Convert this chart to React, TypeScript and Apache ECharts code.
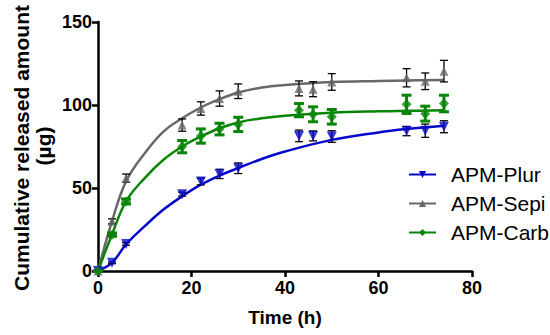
import React, { useEffect, useRef } from "react";
import * as echarts from "echarts";

// Measured time points (h)
const times = [0, 3, 6, 18, 22, 26, 30, 43, 46, 50, 66, 70, 74];

// Mean cumulative released amount (µg) and SD per formulation
const plurMean = [0, 4.9, 16.3, 46.3, 53.9, 58.5, 61.9, 81.4, 81.4, 81.0, 84.3, 84.5, 86.9];
const plurSD = [0, 0.5, 0.8, 1.2, 2.0, 2.8, 3.2, 3.5, 3.0, 3.5, 2.8, 4.0, 3.6];
const sepiMean = [0, 29.9, 55.9, 87.9, 97.9, 103.9, 108.3, 110.0, 109.5, 113.9, 116.4, 114.3, 120.4];
const sepiSD = [0, 1.5, 2.5, 3.7, 4.0, 4.6, 4.4, 4.5, 4.5, 5.0, 5.5, 5.0, 6.5];
const carbMean = [0, 21.9, 41.9, 74.9, 81.3, 85.5, 88.3, 96.9, 94.4, 92.9, 100.4, 94.8, 100.9];
const carbSD = [0, 1.0, 1.5, 3.7, 4.3, 3.5, 4.3, 4.0, 4.5, 4.4, 5.5, 4.5, 5.0];

// Fitted curves
const curveT = [0, 3, 6, 10, 14, 18, 22, 26, 30, 35, 40, 50, 60, 66, 74];
const plurFit = [0, 5, 16, 27, 37, 45, 52, 57.5, 62, 67.5, 72, 79, 83.5, 85.5, 87.5];
const sepiFit = [0, 30, 54, 71, 84, 92, 98.5, 103.5, 107.5, 110.5, 112, 113.8, 114.5, 114.8, 115];
const carbFit = [0, 22, 42, 56, 67, 75, 81, 86, 89.5, 92, 93.5, 95.3, 96.2, 96.5, 96.8];

// Axis ticks
const xTicks = [0, 20, 40, 60, 80];
const yTicks = [0, 50, 100, 150];

const Y_TITLE = "Cumulative released amount";
const Y_UNIT = "(µg)";

const BLUE = "#0707cc";
const GRAY = "#686868";
const GREEN = "#078507";
const FONT = "Arial, 'Liberation Sans', sans-serif";

function errRender(color: string, lw: number, capW: number) {
  return (params: any, api: any) => {
    const x = api.value(0);
    const lo = api.coord([x, api.value(1)]);
    const hi = api.coord([x, api.value(2)]);
    const st = { stroke: color, lineWidth: lw };
    return {
      type: "group",
      children: [
        { type: "line", shape: { x1: lo[0], y1: lo[1], x2: hi[0], y2: hi[1] }, style: st },
        { type: "line", shape: { x1: lo[0] - capW / 2, y1: lo[1], x2: lo[0] + capW / 2, y2: lo[1] }, style: st },
        { type: "line", shape: { x1: hi[0] - capW / 2, y1: hi[1], x2: hi[0] + capW / 2, y2: hi[1] }, style: st },
      ],
    };
  };
}

export default function App() {
  const ref = useRef<HTMLDivElement>(null);
  useEffect(() => {
    if (!ref.current) return;
    const chart = echarts.init(ref.current, undefined, { renderer: "svg" });
    const pair = (xs: number[], ys: number[]) => xs.map((t, i) => [t, ys[i]]);
    const errs = (m: number[], s: number[]) => times.map((t, i) => [t, m[i] - s[i], m[i] + s[i]]);

    const defs = [
      { name: "APM-Plur", color: BLUE, fit: plurFit, mean: plurMean, sd: plurSD, symbol: "triangle", rot: 180, size: 10, ec: "#000", elw: 1.3, cap: 8 },
      { name: "APM-Sepi", color: GRAY, fit: sepiFit, mean: sepiMean, sd: sepiSD, symbol: "triangle", rot: 0, size: 9, ec: "#000", elw: 1.3, cap: 8 },
      { name: "APM-Carb", color: GREEN, fit: carbFit, mean: carbMean, sd: carbSD, symbol: "diamond", rot: 0, size: 10, ec: GREEN, elw: 3, cap: 10 },
    ];

    const series: any[] = [];
    defs.forEach((d) => {
      series.push({
        name: d.name,
        type: "line",
        data: pair(curveT, d.fit),
        smooth: 0.4,
        symbol: d.symbol,
        symbolRotate: d.rot,
        showSymbol: false,
        lineStyle: { color: d.color, width: 2.5 },
        itemStyle: { color: d.color },
        silent: true,
        z: 2,
      });
      series.push({
        name: d.name + " SD",
        type: "custom",
        data: errs(d.mean, d.sd),
        encode: { x: 0, y: [1, 2] },
        renderItem: errRender(d.ec, d.elw, d.cap),
        silent: true,
        clip: false,
        z: 3,
      });
      series.push({
        name: d.name + " pts",
        type: "scatter",
        data: pair(times, d.mean),
        symbol: d.symbol,
        symbolRotate: d.rot,
        symbolSize: d.size,
        itemStyle: { color: d.color },
        clip: false,
        silent: true,
        z: 4,
      });
    });

    chart.setOption({
      animation: false,
      grid: { left: 98, right: 78, top: 22, bottom: 64 },
      graphic: [
        {
          type: "text",
          x: 21,
          y: 148,
          rotation: Math.PI / 2,
          style: { text: Y_TITLE, font: `bold 21px ${FONT}`, fill: "#000", textAlign: "center", textVerticalAlign: "middle" },
        },
        {
          type: "text",
          x: 43,
          y: 146,
          rotation: Math.PI / 2,
          style: { text: Y_UNIT, font: `bold 21px ${FONT}`, fill: "#000", textAlign: "center", textVerticalAlign: "middle" },
        },
      ],
      legend: {
        data: defs.map((d) => d.name),
        orient: "vertical",
        left: 408,
        top: 164,
        padding: 0,
        itemWidth: 27,
        itemHeight: 9,
        itemGap: 8,
        textStyle: { fontSize: 21, color: "#000", fontFamily: FONT, padding: [0, 0, 0, 10] },
      },
      xAxis: {
        type: "value",
        min: xTicks[0],
        max: xTicks[xTicks.length - 1],
        interval: 20,
        name: "Time (h)",
        nameLocation: "middle",
        nameGap: 37,
        nameTextStyle: { fontSize: 19, fontWeight: "bold", color: "#000", fontFamily: FONT },
        axisLine: { lineStyle: { color: "#000", width: 2.5 } },
        axisTick: { length: 6, lineStyle: { color: "#000", width: 2.5 } },
        axisLabel: { fontSize: 18, fontWeight: "bold", color: "#000", fontFamily: FONT, margin: 8 },
        splitLine: { show: false },
      },
      yAxis: {
        type: "value",
        min: yTicks[0],
        max: yTicks[yTicks.length - 1],
        interval: 50,
        axisLine: { show: true, lineStyle: { color: "#000", width: 2.5 } },
        axisTick: { show: true, length: 6, lineStyle: { color: "#000", width: 2.5 } },
        axisLabel: { fontSize: 18, fontWeight: "bold", color: "#000", fontFamily: FONT, margin: 6 },
        splitLine: { show: false },
      },
      series,
    });
    return () => chart.dispose();
  }, []);
  return <div ref={ref} style={{ width: 550, height: 335, position: "absolute", left: 0, top: 0 }} />;
}
